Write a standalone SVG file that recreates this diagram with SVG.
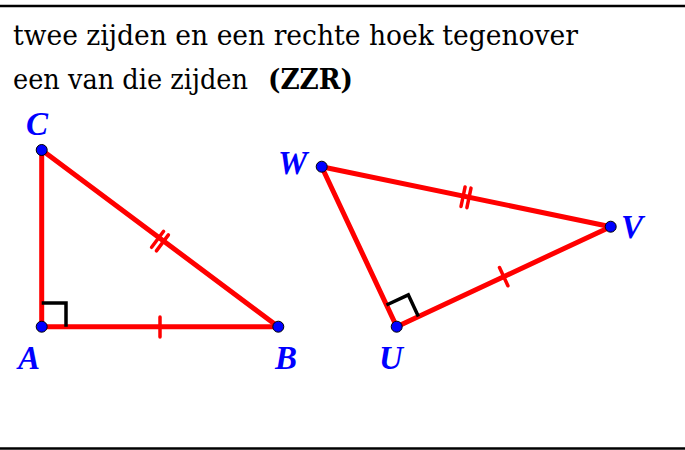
<svg xmlns="http://www.w3.org/2000/svg" width="685" height="450" viewBox="0 0 685 450">
<style>
.frame{stroke:#000;stroke-width:2.5;fill:none}
.title{font-family:"DejaVu Serif","Liberation Serif",serif;font-size:27px;fill:#000}
.side{stroke:#ff0000;stroke-width:5;stroke-linecap:round;fill:none}
.tick{stroke:#ff0000;stroke-width:3.5;stroke-linecap:round;fill:none}
.right{stroke:#000;stroke-width:3.5;fill:none;stroke-linejoin:miter}
.pt{fill:#0000ff;stroke:#000;stroke-width:1}
.lbl{font-family:"Liberation Serif","Times New Roman",serif;font-size:33px;font-weight:bold;font-style:italic;fill:#0000ff}
</style>
<rect width="685" height="450" fill="#fff"/>
<line class="frame" x1="0" y1="6" x2="685" y2="6"/>
<line class="frame" x1="0" y1="448.5" x2="685" y2="448.5"/>
<text class="title" x="13" y="45" textLength="565" lengthAdjust="spacingAndGlyphs">twee zijden en een rechte hoek tegenover</text>
<text class="title" x="13" y="89" textLength="235" lengthAdjust="spacingAndGlyphs">een van die zijden</text>
<text class="title" x="268" y="89" font-weight="bold" textLength="85" lengthAdjust="spacingAndGlyphs">(ZZR)</text>
<g id="connectors">
<line class="side" x1="41.7" y1="150" x2="41.7" y2="326.7"/>
<line class="side" x1="41.7" y1="326.7" x2="278.3" y2="326.7"/>
<line class="side" x1="41.7" y1="150" x2="278.3" y2="326.7"/>
<line class="side" x1="321.7" y1="166.7" x2="610.7" y2="226.7"/>
<line class="side" x1="610.7" y1="226.7" x2="396.7" y2="326.7"/>
<line class="side" x1="396.7" y1="326.7" x2="321.7" y2="166.7"/>
<line class="tick" x1="160" y1="317" x2="160" y2="337"/>
<line class="tick" x1="163.6" y1="231.3" x2="151.6" y2="247.3"/>
<line class="tick" x1="168.4" y1="234.9" x2="156.4" y2="250.9"/>
<line class="tick" x1="465.1" y1="186.9" x2="461.0" y2="206.5"/>
<line class="tick" x1="471.0" y1="188.1" x2="466.9" y2="207.7"/>
<line class="tick" x1="499.5" y1="267.6" x2="507.9" y2="285.8"/>
<path class="right" d="M41.7,303 H66 V326.7"/>
<path class="right" d="M386.5,305 L408.3,294.8 L418.4,316.5"/>
</g>
<g id="C"><circle class="pt" cx="41.7" cy="150" r="5.5"/><text class="lbl" x="26" y="135">C</text></g>
<g id="A"><circle class="pt" cx="41.7" cy="326.7" r="5.5"/><text class="lbl" x="18" y="369">A</text></g>
<g id="B"><circle class="pt" cx="278.3" cy="326.7" r="5.5"/><text class="lbl" x="275" y="369">B</text></g>
<g id="W"><circle class="pt" cx="321.7" cy="166.7" r="5.5"/><text class="lbl" x="278" y="174">W</text></g>
<g id="V"><circle class="pt" cx="610.7" cy="226.7" r="5.5"/><text class="lbl" x="621" y="238">V</text></g>
<g id="U"><circle class="pt" cx="396.7" cy="326.7" r="5.5"/><text class="lbl" x="379" y="369">U</text></g>
</svg>
